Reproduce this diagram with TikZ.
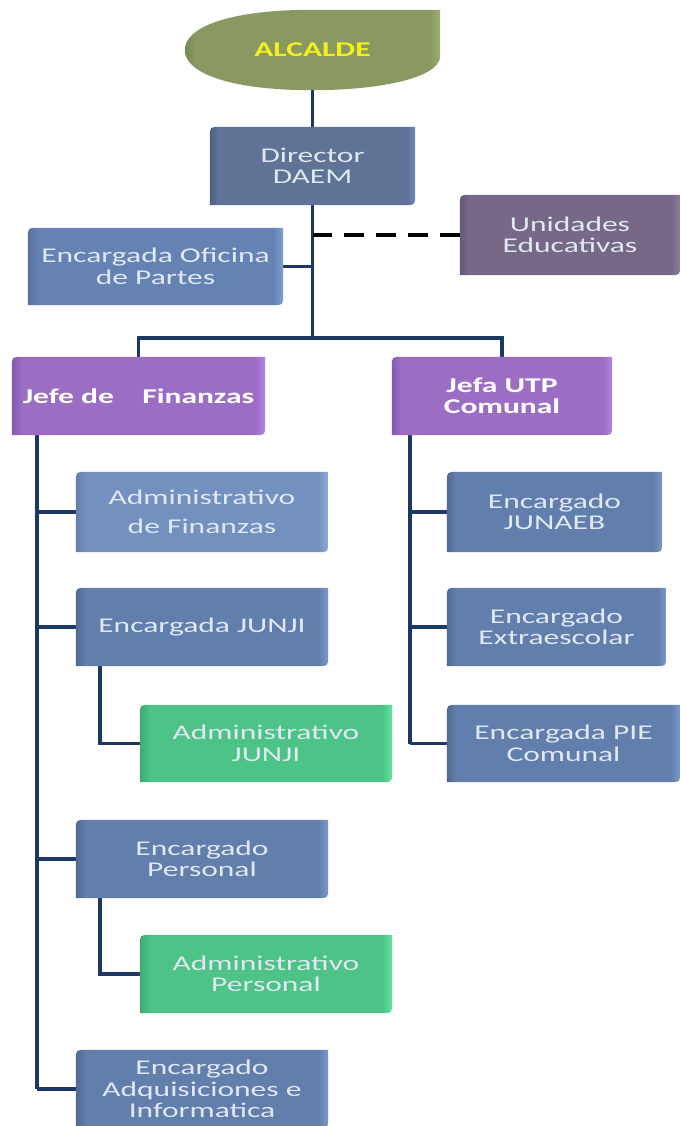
\documentclass[tikz,border=0pt]{standalone}
\usepackage{fontspec}
\setmainfont{Carlito}[FakeStretch=1.5]
\usetikzlibrary{backgrounds,calc}
\definecolor{navy}{RGB}{30,56,102}
\definecolor{txtlight}{RGB}{224,232,242}
\definecolor{alcyellow}{RGB}{242,240,30}
\newcommand\mkshade[4]{\pgfdeclarehorizontalshading{#1}{100bp}{color(0bp)=(#2); color(25bp)=(#2); color(27bp)=(#3); color(73bp)=(#3); color(75bp)=(#4); color(100bp)=(#4)}}
\definecolor{dirD}{RGB}{78,96,128}\definecolor{dirM}{RGB}{94,115,150}\definecolor{dirH}{RGB}{112,140,185}
\definecolor{bluD}{RGB}{82,104,145}\definecolor{bluM}{RGB}{98,126,172}\definecolor{bluH}{RGB}{122,154,205}
\definecolor{ofiD}{RGB}{84,112,158}\definecolor{ofiM}{RGB}{100,131,180}\definecolor{ofiH}{RGB}{124,160,212}
\definecolor{adfD}{RGB}{100,128,172}\definecolor{adfM}{RGB}{115,145,190}\definecolor{adfH}{RGB}{140,172,220}
\definecolor{uniD}{RGB}{100,88,116}\definecolor{uniM}{RGB}{118,104,134}\definecolor{uniH}{RGB}{140,124,158}
\definecolor{purD}{RGB}{130,90,172}\definecolor{purM}{RGB}{155,110,195}\definecolor{purH}{RGB}{180,132,230}
\definecolor{grnD}{RGB}{62,170,115}\definecolor{grnM}{RGB}{78,195,135}\definecolor{grnH}{RGB}{96,228,160}
\definecolor{olvD}{RGB}{122,136,84}\definecolor{olvM}{RGB}{138,152,98}\definecolor{olvH}{RGB}{158,172,116}
\mkshade{shdir}{dirD}{dirM}{dirH}
\mkshade{shblu}{bluD}{bluM}{bluH}
\mkshade{shofi}{ofiD}{ofiM}{ofiH}
\mkshade{shadf}{adfD}{adfM}{adfH}
\mkshade{shuni}{uniD}{uniM}{uniH}
\mkshade{shpur}{purD}{purM}{purH}
\mkshade{shgrn}{grnD}{grnM}{grnH}
\mkshade{sholv}{olvD}{olvM}{olvH}
\newcommand\bx[7]{\node[lbl,#6,minimum width={(#4-#2)*1pt},minimum height={(#5-#3)*1pt}] (#1) at ({(#2+#4)/2},{(#3+#5)/2}) {#7};}
\newcommand\rdshape[2]{\shade[shading=#2] (#1.north east) -- ($(#1.south east)+(0,-11)$) .. controls (#1.south east) .. ($(#1.south east)+(-11,0)$) -- (#1.south west) -- ($(#1.north west)+(0,11)$) .. controls (#1.north west) .. ($(#1.north west)+(11,0)$) -- cycle;}
\begin{document}
\begin{tikzpicture}[x=1pt,y=-1pt,
  lbl/.style={inner sep=0pt,align=center,font=\fontsize{21}{21.5}\selectfont,text=txtlight},
  boldlbl/.style={font=\fontsize{21}{21.5}\selectfont\bfseries,text=white},
  conn/.style={line width=3.6pt,draw=navy},
  dashconn/.style={line width=3.6pt,draw=black,dash pattern=on 20pt off 12pt}]
\useasboundingbox (0,0) rectangle (680,1126);
% nodes
\bx{alc}{185}{10}{440}{90}{boldlbl,text=alcyellow}{ALCALDE}
\bx{dir}{210}{127}{415}{205}{}{Director\\DAEM}
\bx{uni}{460}{195}{680}{275}{}{Unidades\\Educativas}
\bx{ofi}{28}{228}{283}{305}{}{Encargada Oficina\\de Partes}
\bx{jf}{12}{357}{265}{435}{boldlbl}{Jefe\ de\ \ \ \ Finanzas}
\bx{ju}{392}{357}{612}{435}{boldlbl}{Jefa UTP\\Comunal}
\bx{adf}{76}{472}{328}{552}{}{Administrativo\\[8pt]de Finanzas}
\bx{ej}{76}{588}{328}{666}{}{Encargada JUNJI}
\bx{aj}{140}{705}{392}{782}{}{Administrativo\\JUNJI}
\bx{ep}{76}{820}{328}{898}{}{Encargado\\Personal}
\bx{apers}{140}{935}{392}{1013}{}{Administrativo\\Personal}
\bx{adq}{76}{1050}{328}{1128}{}{Encargado\\Adquisiciones e\\Informatica}
\bx{jun}{447}{472}{662}{552}{}{Encargado\\JUNAEB}
\bx{ext}{447}{588}{666}{666}{}{Encargado\\Extraescolar}
\bx{pie}{447}{705}{680}{782}{}{Encargada PIE\\Comunal}
\begin{scope}[on background layer]
  % connectors
  \draw[conn] (alc.south) -- (dir.north);
  \coordinate (bar) at ($(dir.south)+(0,133)$);
  \draw[conn] (dir.south) -- (bar);
  \draw[conn] (jf.north) |- (bar) -| (ju.north);
  \draw[conn] (ofi.east) -- (ofi.east -| dir.south);
  \draw[dashconn] (uni.west) -- (uni.west -| dir.south);
  \coordinate (lt) at ($(jf.south west)+(25,0)$);
  \draw[conn] (lt) -- (lt |- adq.west);
  \foreach \c in {adf,ej,ep,adq} \draw[conn] (lt |- \c.west) -- (\c.west);
  \coordinate (rt) at ($(ju.south west)+(18,0)$);
  \draw[conn] (rt) -- (rt |- pie.west);
  \foreach \c in {jun,ext,pie} \draw[conn] (rt |- \c.west) -- (\c.west);
  \coordinate (s1) at ($(ej.south west)+(24,0)$);
  \draw[conn] (s1) |- (aj.west);
  \coordinate (s2) at ($(ep.south west)+(24,0)$);
  \draw[conn] (s2) |- (apers.west);
  % shapes
  \shade[shading=sholv] (alc.north east) -- ($(alc.east)+(0,6)$)
    .. controls ($(alc.south east)+(0,-12)$) and ($(alc.south)+(66,0)$) .. (alc.south)
    .. controls ($(alc.south)+(-80,0)$) and ($(alc.west)+(0,24)$) .. (alc.west)
    .. controls ($(alc.west)+(0,-24)$) and ($(alc.north)+(-80,0)$) .. (alc.north) -- cycle;
  \rdshape{dir}{shdir}
  \rdshape{uni}{shuni}
  \rdshape{ofi}{shofi}
  \rdshape{jf}{shpur}
  \rdshape{ju}{shpur}
  \rdshape{adf}{shadf}
  \rdshape{ej}{shblu}
  \rdshape{aj}{shgrn}
  \rdshape{ep}{shblu}
  \rdshape{apers}{shgrn}
  \rdshape{adq}{shblu}
  \rdshape{jun}{shblu}
  \rdshape{ext}{shblu}
  \rdshape{pie}{shblu}
\end{scope}
\end{tikzpicture}
\end{document}
